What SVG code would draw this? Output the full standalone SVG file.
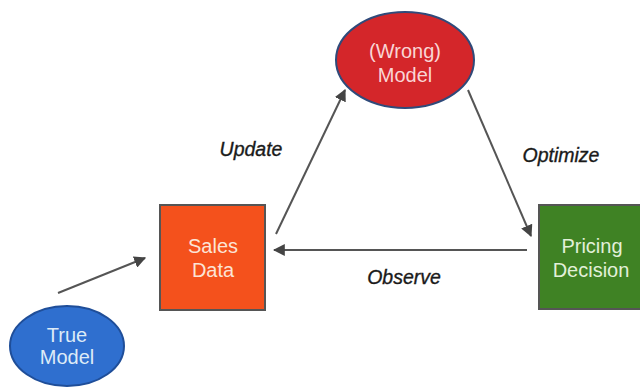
<svg xmlns="http://www.w3.org/2000/svg" width="640" height="387" viewBox="0 0 640 387">
<defs>
<marker id="ah" viewBox="0 0 10 10" refX="9" refY="5" markerWidth="6" markerHeight="6" orient="auto" markerUnits="strokeWidth">
<path d="M0,0 L10,5 L0,10 z" fill="#444"/>
</marker>
</defs>
<style>
.lbl{font-family:"Liberation Sans",Arial,sans-serif;font-size:19.5px;font-style:italic;fill:#1a1a1a;stroke:#1a1a1a;stroke-width:0.35;text-anchor:middle}
.nt{font-family:"Liberation Sans",Arial,sans-serif;font-size:20px;text-anchor:middle}
.edge{stroke:#555;stroke-width:2;fill:none;marker-end:url(#ah)}
</style>
<rect width="640" height="387" fill="#fff"/>
<g id="connectors">
<line class="edge" x1="58" y1="293" x2="145" y2="258"/>
<line class="edge" x1="276" y1="234" x2="345" y2="90"/>
<line class="edge" x1="468" y1="90" x2="531" y2="236"/>
<line class="edge" x1="527" y1="250" x2="274" y2="250"/>
</g>
<g id="labels">
<text class="lbl" x="251" y="156">Update</text>
<text class="lbl" x="561" y="162">Optimize</text>
<text class="lbl" x="404" y="284">Observe</text>
</g>
<g id="wrong-model">
<ellipse cx="405" cy="60" rx="69" ry="48" fill="#D4262A" stroke="#2F4A7A" stroke-width="2"/>
<text class="nt" x="405" y="58" fill="#F9D5D5">(Wrong)</text>
<text class="nt" x="405" y="82" fill="#F9D5D5">Model</text>
</g>
<g id="sales-data">
<rect x="160" y="205" width="105" height="105" fill="#F4511C" stroke="#555" stroke-width="2"/>
<text class="nt" x="213" y="253" fill="#FCE4D6">Sales</text>
<text class="nt" x="213" y="277" fill="#FCE4D6">Data</text>
</g>
<g id="pricing-decision">
<rect x="539" y="205" width="110" height="104" fill="#3F8224" stroke="#555" stroke-width="2"/>
<text class="nt" x="592" y="253" fill="#E2F0D9">Pricing</text>
<text class="nt" x="591" y="277" fill="#E2F0D9">Decision</text>
</g>
<g id="true-model">
<ellipse cx="67" cy="346" rx="57" ry="40" fill="#2F6FCF" stroke="#1F4E99" stroke-width="2"/>
<text class="nt" x="67" y="342" font-size="19" fill="#DDEBF7">True</text>
<text class="nt" x="67" y="364" fill="#DDEBF7">Model</text>
</g>
</svg>
